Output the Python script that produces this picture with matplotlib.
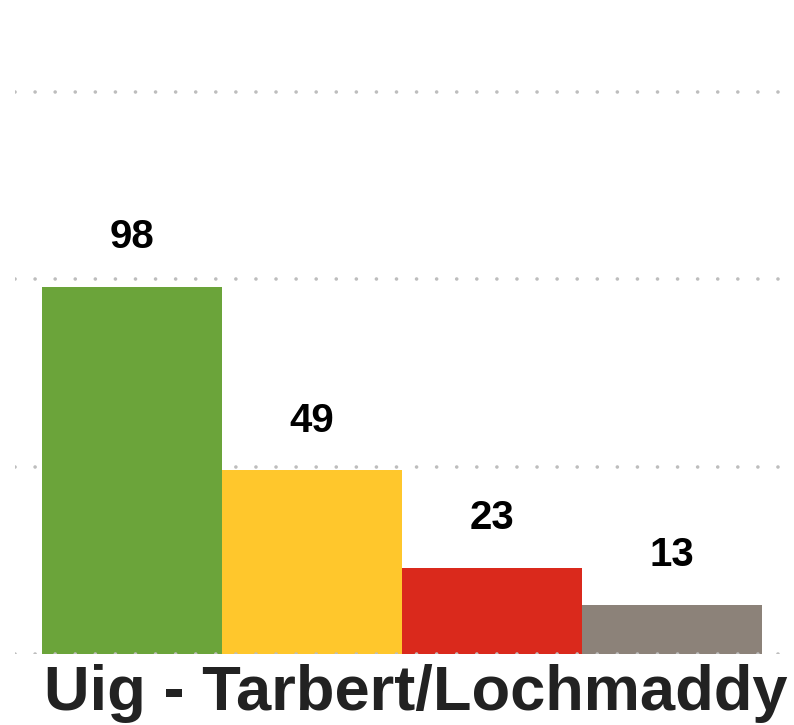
import matplotlib
matplotlib.use("Agg")
import matplotlib.pyplot as plt

# values
categories = ["A", "B", "C", "D"]
values = [98, 49, 23, 13]
colors = ["#6BA43A", "#FFC72C", "#DA291C", "#8C8279"]
gridlines = [0, 50, 100, 150]
title = "Uig - Tarbert/Lochmaddy"

W, H = 794, 725
fig = plt.figure(figsize=(W / 100, H / 100), dpi=100)
ax = fig.add_axes([15 / W, (H - 654) / H, 765 / W, 654 / H])

x = list(range(len(values)))
for g in gridlines:
    ax.axhline(g, color="#bdbdbd", lw=2.6, dashes=(0.01, 5.55), dash_capstyle="round",
               zorder=3 if g == 0 else 0)
ax.bar(x, values, width=1.0, color=colors, zorder=2)
for xi, v in zip(x, values):
    ax.annotate(str(v), (xi, v), xytext=(0, 28), textcoords="offset points",
                ha="center", va="baseline", fontsize=29, fontweight="bold",
                family="Liberation Sans", color="black")

ax.set_xlim(-0.65, 3.6)
ax.set_ylim(0, 174.6)
ax.axis("off")

fig.text(416 / W, (H - 710) / H, title, ha="center", va="baseline",
         fontsize=45.5, fontweight="bold", family="Liberation Sans", color="#222222")

fig.savefig("out.png", dpi=100)
